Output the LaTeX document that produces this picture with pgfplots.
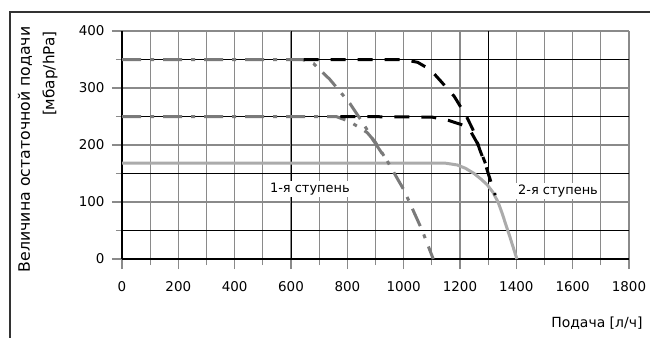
\documentclass[border=0pt]{standalone}
\usepackage{fontspec}
\setmainfont{DejaVu Sans}
\usepackage{pgfplots}
\pgfplotsset{compat=1.18}
\definecolor{dd}{HTML}{7A7A7A}
\definecolor{lg}{HTML}{ABABAB}
\definecolor{gridg}{HTML}{8A8A8A}
\begin{document}
\fontsize{13}{15}\selectfont
\begin{tikzpicture}
\useasboundingbox (0bp,0bp) rectangle (650bp,-338bp);
\draw[line width=1.5bp, black!80] (10bp,-338bp) -- (10bp,-12bp) -- (650bp,-12bp);
\begin{axis}[
  at={(122bp,-259bp)}, anchor=south west,
  width=507bp, height=228bp, scale only axis,
  xmin=0, xmax=1800, ymin=0, ymax=400,
  xtick={0,200,...,1800}, minor xtick={100,300,...,1700},
  ytick={0,100,...,400}, minor ytick={50,150,250,350},
  axis x line*=bottom, axis y line*=left,
  x axis line style={line width=2.2bp,-},
  y axis line style={line width=2.2bp,-},
  tick align=outside, tick pos=left,
  major tick length=10bp, minor tick length=6bp,
  every tick/.style={gridg, line width=1.2bp},
  grid=both,
  major grid style={gridg, line width=1.2bp},
  minor x grid style={gridg, line width=1.2bp},
  minor y grid style={black, line width=0.8bp},
  /pgf/number format/assume math mode=true,
  /pgf/number format/1000 sep={},
  ticklabel style={font=\fontsize{13.5}{15}\selectfont},
  xticklabel style={yshift=-8bp},
  yticklabel style={xshift=-3bp},
  clip=false,
]
\draw[black, line width=0.8bp] (axis cs:600,0) -- (axis cs:600,400);
\draw[black, line width=0.8bp] (axis cs:1300,0) -- (axis cs:1300,400);
% light gray solid
\addplot[lg, line width=3bp, line join=round] coordinates {
(0,168) (1150,168) (1190,165) (1220,159) (1250,150) (1275,140) (1297,130) (1317,117) (1335,100) (1349,81) (1377,39) (1402,0)};
% gray dash-dot 350
\addplot[dd, line width=3bp, dash pattern=on 19bp off 9bp on 4bp off 9bp, line join=round] coordinates {
(0,350) (640,350) (680,343) (738,315) (809,273) (860,235) (891,209) (944,170) (1001,121) (1065,51) (1105,0)};
% gray dash-dot 250
\addplot[dd, line width=3bp, dash pattern=on 19bp off 9bp on 4bp off 9bp, line join=round] coordinates {
(0,250) (760,250) (809,241) (870,222) (898,206) (944,170)};
% black dashed upper
\addplot[black, line width=3bp, dash pattern=on 15bp off 12bp, line join=round] coordinates {
(645,350) (1000,350) (1050,345) (1095,332) (1130,313) (1180,285) (1224,249) (1245,228) (1270,192) (1290,166) (1310,135) (1325,112)};
% black dashed lower
\addplot[black, line width=3bp, dash pattern=on 15bp off 12bp, line join=round] coordinates {
(775,250) (1100,249) (1160,243) (1210,235) (1240,222) (1265,200) (1290,168)};
\node[fill=white, inner sep=2pt] at (axis cs:667,123) {1-я ступень};
\node[fill=white, inner sep=2pt] at (axis cs:1548,119) {2-я ступень};
\end{axis}
\node[rotate=90, anchor=east, font=\fontsize{15.8}{17}\selectfont] at (25bp,-22bp) {Величина остаточной подачи};
\node[rotate=90, anchor=east, font=\fontsize{15.3}{17}\selectfont] at (50bp,-27bp) {[мбар/hPa]};
\node[anchor=east, font=\fontsize{14}{16}\selectfont] at (647bp,-323bp) {Подача [л/ч]};
\end{tikzpicture}
\end{document}
